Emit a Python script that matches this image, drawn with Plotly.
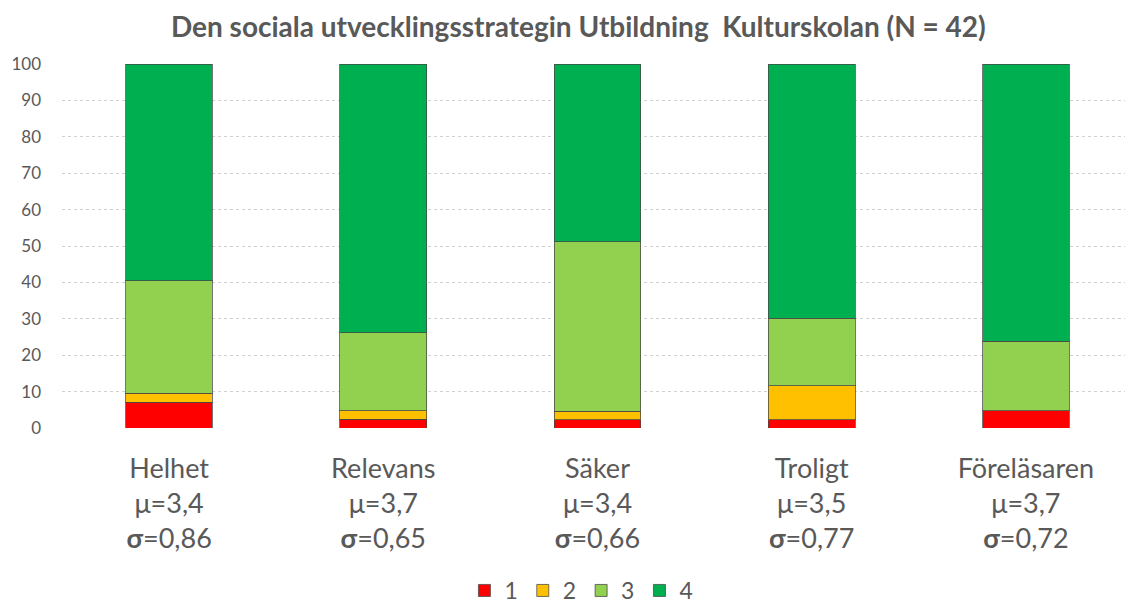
import plotly.graph_objects as go

categories = ["Helhet", "Relevans", "Säker", "Troligt", "Föreläsaren"]
means = ["3,4", "3,7", "3,4", "3,5", "3,7"]
sigmas = ["0,86", "0,65", "0,66", "0,77", "0,72"]

series_names = ["1", "2", "3", "4"]
v1 = [7.1, 2.4, 2.3, 2.3, 4.8]
v2 = [2.4, 2.4, 2.3, 9.3, 0.0]
v3 = [31.0, 21.4, 46.6, 18.6, 19.0]
v4 = [59.5, 73.8, 48.8, 69.8, 76.2]
colors = ["#FF0000", "#FFC000", "#92D050", "#00B050"]

yticks = list(range(0, 101, 10))

ticktext = [f"{c}<br>μ={m}<br><b>σ</b>={s}" for c, m, s in zip(categories, means, sigmas)]

fig = go.Figure()
for name, vals, col in zip(series_names, [v1, v2, v3, v4], colors):
    fig.add_trace(go.Bar(
        x=categories, y=vals, name=name,
        marker=dict(color=col, line=dict(color="rgba(70,70,70,0.75)", width=1)),
    ))

# page has an 8px body margin; figure is sized/offset to compensate
fig.update_layout(
    barmode="stack",
    bargap=0.595,
    width=1125, height=604,
    margin=dict(l=54, r=0, t=56, b=182),
    paper_bgcolor="white", plot_bgcolor="white",
    font=dict(family="Lato, Open Sans, sans-serif", color="#595959"),
    title=dict(
        text="<b>Den sociala utvecklingsstrategin Utbildning  Kulturskolan (N = 42)</b>",
        xref="container", x=0.507, xanchor="center",
        yref="container", y=0.969, yanchor="middle",
        font=dict(size=28, color="#595959", family="Lato, Open Sans, sans-serif"),
    ),
    legend=dict(
        orientation="h", x=0.485, xanchor="center", y=-0.448, yanchor="middle",
        font=dict(size=23, color="#595959"), traceorder="normal",
        itemwidth=30,
    ),
    xaxis=dict(
        tickmode="array", tickvals=categories, ticktext=ticktext,
        tickfont=dict(size=27, color="#595959"),
        showline=False, ticks="", ticklabelstandoff=22,
    ),
    yaxis=dict(
        range=[0, 100], tickmode="array", tickvals=yticks,
        tickfont=dict(size=17, color="#595959"),
        showgrid=True, gridcolor="#d0d0d0", griddash="dot", gridwidth=1,
        zeroline=False, ticks="", ticklabelstandoff=20,
    ),
)

fig.write_html("out.html")
